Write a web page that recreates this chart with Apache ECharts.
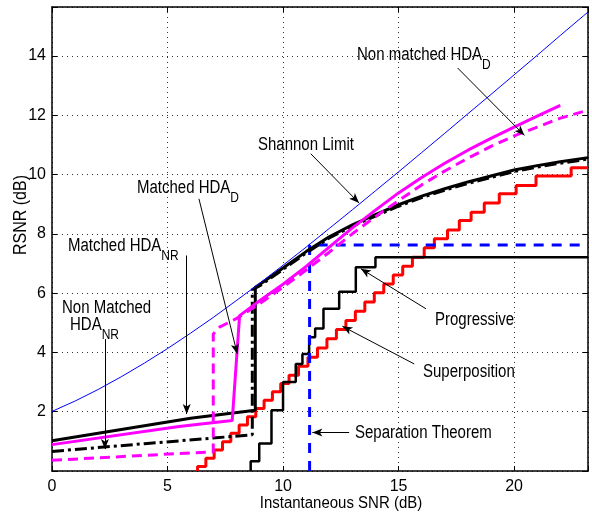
<!DOCTYPE html>
<html lang="en">
<head>
    <meta charset="UTF-8">
    <title>RSNR vs SNR</title>
    <script src="https://cdn.jsdelivr.net/npm/echarts@6/dist/echarts.min.js"></script>
    <style>
        html, body { margin: 0; padding: 0; background: #fff; }
        #main { width: 592px; height: 514px; }
    </style>
</head>
<body>
<div id="main"></div>
<script>
    // values (x = instantaneous SNR dB, y = RSNR dB)
    var shannonX = [0, 1, 2, 3, 4, 5, 6, 7, 8, 9, 10, 11, 12, 13, 14, 15, 16, 17, 18, 19, 20, 21, 22, 23, 23.2];
    var shannonY = [2.01, 2.36, 2.75, 3.18, 3.64, 4.13, 4.65, 5.19, 5.76, 6.34, 6.94, 7.55, 8.18, 8.81, 9.45, 10.09, 10.74, 11.39, 12.05, 12.70, 13.36, 14.02, 14.69, 15.35, 15.48];

    var matchedNrX = [0, 3, 6, 8.8, 8.8, 9, 10, 11, 12, 13, 14, 15, 16, 17, 18, 19, 20, 21, 22, 23.2];
    var matchedNrY = [1.02, 1.4, 1.78, 2.05, 6.2, 6.3, 6.85, 7.4, 7.9, 8.3, 8.65, 8.98, 9.27, 9.52, 9.75, 9.95, 10.15, 10.3, 10.43, 10.57];

    var nonMatchedNrX = [0, 4, 8.67, 8.67, 9, 10, 11, 12, 13, 14, 15, 16, 17, 18, 19, 20, 21, 22, 23.2];
    var nonMatchedNrY = [0.66, 0.92, 1.22, 6.12, 6.25, 6.8, 7.35, 7.86, 8.26, 8.6, 8.93, 9.22, 9.47, 9.7, 9.9, 10.1, 10.25, 10.38, 10.52];

    var matchedDX = [0, 5.5, 7.8, 8.12, 9, 10, 11, 12, 13, 14, 15, 16, 17, 18, 19, 20, 21, 22];
    var matchedDY = [0.89, 1.5, 1.7, 5.24, 5.75, 6.3, 6.9, 7.55, 8.2, 8.8, 9.38, 9.9, 10.38, 10.82, 11.22, 11.6, 11.97, 12.33];

    var nonMatchedDX = [0, 5.5, 6.98, 6.98, 7.25, 8, 9, 10, 11, 12, 13, 14, 15, 16, 17, 18, 19, 20, 21, 22, 23.2];
    var nonMatchedDY = [0.36, 0.59, 0.64, 4.62, 4.85, 5.15, 5.65, 6.2, 6.78, 7.38, 8.0, 8.58, 9.12, 9.65, 10.12, 10.55, 10.95, 11.3, 11.6, 11.9, 12.17];

    var separationX = [11.15, 11.15, 23.2];
    var separationY = [0, 7.62, 7.62];

    // staircases: level y starts at x
    var progressiveX = [8.6, 8.6, 8.97, 9.5, 10.0, 10.55, 10.84, 11.13, 11.39, 11.75, 12.43, 13.15, 14.0, 23.2];
    var progressiveY = [0, 0.33, 0.93, 2.05, 3.0, 3.61, 3.95, 4.51, 4.81, 5.47, 6.05, 6.87, 7.21, 7.21];

    var superX = [6.3, 6.3, 6.66, 7.02, 7.38, 7.74, 8.1, 8.46, 8.82, 9.18, 9.54, 9.9, 10.26, 10.67, 11.08, 11.49, 11.9, 12.31, 12.72, 13.13, 13.54, 13.95, 14.36, 14.77, 15.18, 15.6, 16.11, 16.55, 17.12, 17.63, 18.14, 18.71, 19.36, 20.09, 20.95, 22.47, 23.2];
    var superY = [0, 0.15, 0.43, 0.71, 0.99, 1.27, 1.55, 1.83, 2.11, 2.39, 2.67, 2.95, 3.23, 3.53, 3.84, 4.15, 4.46, 4.77, 5.08, 5.39, 5.7, 6.01, 6.31, 6.61, 6.91, 7.21, 7.53, 7.83, 8.13, 8.45, 8.73, 9.04, 9.35, 9.63, 9.95, 10.23, 10.23];

    var xTicks = [0, 5, 10, 15, 20];
    var yTicks = [2, 4, 6, 8, 10, 12, 14];

    // annotation arrows: [from, to] in data units
    var arrows = [
        [[17.56, 13.59], [20.45, 11.32]],
        [[11.2, 10.7], [13.29, 9.04]],
        [[6.36, 9.18], [8.02, 3.95]],
        [[5.83, 7.27], [5.83, 1.92]],
        [[2.29, 4.45], [2.29, 0.74]],
        [[16.19, 5.47], [13.37, 6.82]],
        [[15.68, 3.61], [12.57, 4.88]],
        [[12.86, 1.30], [11.27, 1.30]]
    ];

    function pts(xs, ys) {
        return xs.map(function (x, i) { return [x, ys[i]]; });
    }

    var FONT = 'Liberation Sans, Arial, sans-serif';
    var myChart = echarts.init(document.getElementById('main'));

    var rich = {
        a: { fontSize: 15, fontFamily: FONT, color: '#000', lineHeight: 16 },
        s: { fontSize: 12, fontFamily: FONT, color: '#000', lineHeight: 12, padding: [16, 0, 0, 0] }
    };

    // text in the figure is slightly stretched vertically
    function label(x, y, text) {
        return {
            type: 'text', x: x, y: y, scaleY: 1.2, silent: true,
            style: { text: text, rich: rich, fill: '#000', align: 'left', verticalAlign: 'middle', font: '15px ' + FONT }
        };
    }

    function lineSeries(name, data, color, width, type, step) {
        return {
            name: name, type: 'line', data: data, showSymbol: false, symbol: 'none',
            step: step || false, clip: true,
            lineStyle: { color: color, width: width, type: type || 'solid' }
        };
    }

    var axisCommon = {
        type: 'value',
        axisLine: { show: true, onZero: false, lineStyle: { color: '#000', width: 1.5 } },
        axisTick: { show: true, inside: true, length: 5, lineStyle: { color: '#000' } }
    };

    option = {
        animation: false,
        backgroundColor: '#fff',
        grid: { left: 52, right: 4, top: 7, bottom: 43 },
        xAxis: [
            Object.assign({}, axisCommon, {
                min: 0, max: 23.2, interval: 5, position: 'bottom',
                axisLabel: { color: '#000', fontSize: 16, fontFamily: FONT, margin: 8,
                    formatter: function (v) { return xTicks.indexOf(v) >= 0 ? String(v) : ''; } },
                splitLine: { show: true, lineStyle: { color: '#333', type: [1, 4], width: 1 } }
            }),
            Object.assign({}, axisCommon, {
                min: 0, max: 23.2, interval: 5, position: 'top',
                axisLabel: { show: false }, splitLine: { show: false }
            })
        ],
        yAxis: [
            Object.assign({}, axisCommon, {
                min: 0, max: 15.65, interval: 2, position: 'left',
                axisLabel: { color: '#000', fontSize: 16, fontFamily: FONT, margin: 6,
                    formatter: function (v) { return yTicks.indexOf(v) >= 0 ? String(v) : ''; } },
                splitLine: { show: true, lineStyle: { color: '#333', type: [1, 4], width: 1 } }
            }),
            Object.assign({}, axisCommon, {
                min: 0, max: 15.65, interval: 2, position: 'right',
                axisLabel: { show: false }, splitLine: { show: false }
            })
        ],
        series: [
            lineSeries('Superposition', pts(superX, superY), '#ff0000', 3, 'solid', 'end'),
            lineSeries('Progressive', pts(progressiveX, progressiveY), '#000', 2.5, 'solid', 'end'),
            lineSeries('Separation Theorem', pts(separationX, separationY), '#0000ff', 3, [10, 8]),
            lineSeries('Non matched HDA_NR', pts(nonMatchedNrX, nonMatchedNrY), '#000', 3, [12, 4, 3, 4]),
            lineSeries('Matched HDA_NR', pts(matchedNrX, matchedNrY), '#000', 3),
            lineSeries('Non matched HDA_D', pts(nonMatchedDX, nonMatchedDY), '#ff00ff', 3, [10, 6]),
            lineSeries('Matched HDA_D', pts(matchedDX, matchedDY), '#ff00ff', 3),
            Object.assign(lineSeries('Shannon Limit', pts(shannonX, shannonY), '#0000ff', 1), {
                markLine: {
                    silent: true, animation: false,
                    symbol: ['none', 'arrow'], symbolSize: [6, 10],
                    label: { show: false },
                    lineStyle: { color: '#000', width: 1, type: 'solid' },
                    data: arrows.map(function (a) {
                        return [{ coord: a[0] }, { coord: a[1] }];
                    })
                }
            })
        ],
        graphic: [
            label(357, 55, '{a|Non matched HDA}{s|D}'),
            label(258, 145, '{a|Shannon Limit}'),
            label(137, 188, '{a|Matched HDA}{s|D}'),
            label(68, 246, '{a|Matched HDA}{s|NR}'),
            label(62, 308, '{a|Non Matched}'),
            label(70, 325, '{a|HDA}{s|NR}'),
            label(435, 320, '{a|Progressive}'),
            label(423, 372, '{a|Superposition}'),
            label(355, 433, '{a|Separation Theorem}'),
            {
                type: 'text', x: 341, y: 503, scaleY: 1.15, silent: true,
                style: { text: 'Instantaneous SNR (dB)', fill: '#000', align: 'center', verticalAlign: 'middle', font: '15px ' + FONT }
            },
            {
                type: 'text', x: 21, y: 215, rotation: Math.PI / 2, scaleY: 1.15, silent: true,
                style: { text: 'RSNR (dB)', fill: '#000', align: 'center', verticalAlign: 'middle', font: '16px ' + FONT }
            }
        ]
    };
    myChart.setOption(option);
</script>
</body>
</html>
